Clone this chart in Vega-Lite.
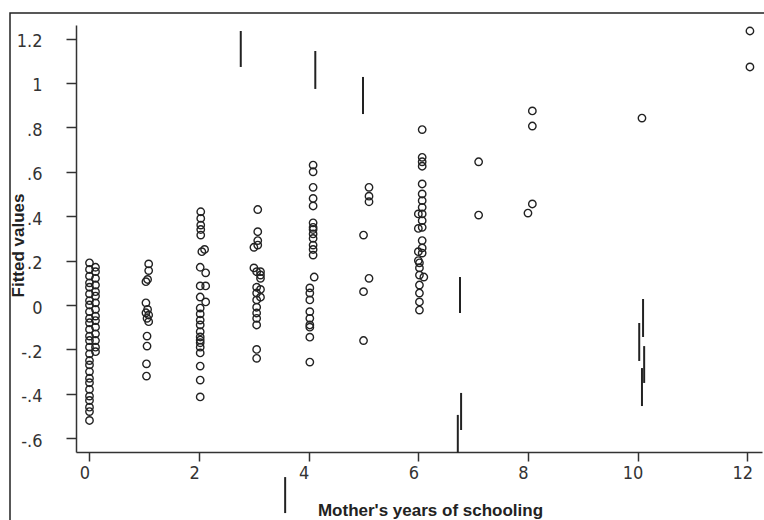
{
  "$schema": "https://vega.github.io/schema/vega-lite/v6.json",
  "width": 760,
  "height": 520,
  "autosize": {"type": "none"},
  "padding": {"left": 10, "top": 13, "right": 0, "bottom": 0},
  "background": "white",
  "config": {"view": {"stroke": "#222", "strokeWidth": 1.5}, "font": "Liberation Sans"},
  "datasets": {
    "pts": [
      {"x": 0.0, "y": 0.19}, {"x": 0.0, "y": 0.16}, {"x": 0.0, "y": 0.13}, {"x": 0.0, "y": 0.1}, {"x": 0.0, "y": 0.08}, {"x": 0.0, "y": 0.05}, {"x": 0.0, "y": 0.02}, {"x": 0.0, "y": 0.0}, {"x": 0.0, "y": -0.03}, {"x": 0.0, "y": -0.06}, {"x": 0.0, "y": -0.08}, {"x": 0.0, "y": -0.11}, {"x": 0.0, "y": -0.14}, {"x": 0.0, "y": -0.16}, {"x": 0.0, "y": -0.19}, {"x": 0.0, "y": -0.22}, {"x": 0.0, "y": -0.25}, {"x": 0.0, "y": -0.27}, {"x": 0.0, "y": -0.3}, {"x": 0.0, "y": -0.33}, {"x": 0.0, "y": -0.35}, {"x": 0.0, "y": -0.38}, {"x": 0.0, "y": -0.41}, {"x": 0.0, "y": -0.43}, {"x": 0.0, "y": -0.46}, {"x": 0.0, "y": -0.48}, {"x": 0.0, "y": -0.52},
      {"x": 0.11, "y": 0.17}, {"x": 0.11, "y": 0.15}, {"x": 0.11, "y": 0.12}, {"x": 0.11, "y": 0.09}, {"x": 0.11, "y": 0.06}, {"x": 0.11, "y": 0.04}, {"x": 0.11, "y": 0.01}, {"x": 0.11, "y": -0.02}, {"x": 0.11, "y": -0.05}, {"x": 0.11, "y": -0.07}, {"x": 0.11, "y": -0.1}, {"x": 0.11, "y": -0.13}, {"x": 0.11, "y": -0.16}, {"x": 0.11, "y": -0.19}, {"x": 0.11, "y": -0.21},
      {"x": 1.08, "y": 0.185}, {"x": 1.08, "y": 0.155}, {"x": 1.03, "y": 0.105}, {"x": 1.06, "y": 0.115}, {"x": 1.03, "y": 0.01}, {"x": 1.06, "y": -0.02}, {"x": 1.03, "y": -0.035}, {"x": 1.08, "y": -0.045}, {"x": 1.05, "y": -0.06}, {"x": 1.08, "y": -0.075}, {"x": 1.05, "y": -0.14}, {"x": 1.05, "y": -0.185}, {"x": 1.04, "y": -0.265}, {"x": 1.04, "y": -0.32},
      {"x": 2.03, "y": 0.42}, {"x": 2.03, "y": 0.39}, {"x": 2.03, "y": 0.36}, {"x": 2.03, "y": 0.34}, {"x": 2.03, "y": 0.315}, {"x": 2.1, "y": 0.25}, {"x": 2.05, "y": 0.24}, {"x": 2.02, "y": 0.17}, {"x": 2.12, "y": 0.145}, {"x": 2.02, "y": 0.086}, {"x": 2.12, "y": 0.086}, {"x": 2.02, "y": 0.036}, {"x": 2.12, "y": 0.014}, {"x": 2.02, "y": -0.014}, {"x": 2.02, "y": -0.04}, {"x": 2.02, "y": -0.068}, {"x": 2.02, "y": -0.09}, {"x": 2.02, "y": -0.12}, {"x": 2.02, "y": -0.144}, {"x": 2.02, "y": -0.158}, {"x": 2.02, "y": -0.17}, {"x": 2.02, "y": -0.19}, {"x": 2.02, "y": -0.216}, {"x": 2.02, "y": -0.275}, {"x": 2.02, "y": -0.338}, {"x": 2.02, "y": -0.414},
      {"x": 3.07, "y": 0.43}, {"x": 3.07, "y": 0.33}, {"x": 3.07, "y": 0.29}, {"x": 3.0, "y": 0.26}, {"x": 3.07, "y": 0.27}, {"x": 3.0, "y": 0.167}, {"x": 3.12, "y": 0.15}, {"x": 3.12, "y": 0.135}, {"x": 3.12, "y": 0.12}, {"x": 3.05, "y": 0.15}, {"x": 3.05, "y": 0.08}, {"x": 3.12, "y": 0.07}, {"x": 3.05, "y": 0.054}, {"x": 3.12, "y": 0.035}, {"x": 3.05, "y": 0.023}, {"x": 3.05, "y": -0.01}, {"x": 3.05, "y": -0.036}, {"x": 3.05, "y": -0.06}, {"x": 3.05, "y": -0.09}, {"x": 3.05, "y": -0.2}, {"x": 3.05, "y": -0.24},
      {"x": 4.08, "y": 0.63}, {"x": 4.08, "y": 0.6}, {"x": 4.08, "y": 0.53}, {"x": 4.08, "y": 0.48}, {"x": 4.08, "y": 0.446}, {"x": 4.08, "y": 0.37}, {"x": 4.08, "y": 0.35}, {"x": 4.08, "y": 0.34}, {"x": 4.08, "y": 0.32}, {"x": 4.08, "y": 0.3}, {"x": 4.08, "y": 0.27}, {"x": 4.08, "y": 0.25}, {"x": 4.08, "y": 0.225}, {"x": 4.1, "y": 0.126}, {"x": 4.02, "y": 0.077}, {"x": 4.02, "y": 0.054}, {"x": 4.02, "y": 0.023}, {"x": 4.02, "y": -0.03}, {"x": 4.02, "y": -0.06}, {"x": 4.02, "y": -0.09}, {"x": 4.02, "y": -0.1}, {"x": 4.02, "y": -0.145}, {"x": 4.02, "y": -0.257},
      {"x": 5.1, "y": 0.53}, {"x": 5.1, "y": 0.49}, {"x": 5.1, "y": 0.465}, {"x": 5.0, "y": 0.315}, {"x": 5.1, "y": 0.12}, {"x": 5.0, "y": 0.06}, {"x": 5.0, "y": -0.16},
      {"x": 6.07, "y": 0.79}, {"x": 6.07, "y": 0.665}, {"x": 6.07, "y": 0.645}, {"x": 6.07, "y": 0.625}, {"x": 6.07, "y": 0.545}, {"x": 6.07, "y": 0.5}, {"x": 6.07, "y": 0.47}, {"x": 6.07, "y": 0.44}, {"x": 6.0, "y": 0.41}, {"x": 6.07, "y": 0.41}, {"x": 6.07, "y": 0.38}, {"x": 6.0, "y": 0.345}, {"x": 6.07, "y": 0.35}, {"x": 6.07, "y": 0.29}, {"x": 6.07, "y": 0.257}, {"x": 6.0, "y": 0.24}, {"x": 6.07, "y": 0.234}, {"x": 6.0, "y": 0.2}, {"x": 6.02, "y": 0.19}, {"x": 6.02, "y": 0.167}, {"x": 6.02, "y": 0.135}, {"x": 6.1, "y": 0.126}, {"x": 6.02, "y": 0.09}, {"x": 6.02, "y": 0.054}, {"x": 6.02, "y": 0.014}, {"x": 6.02, "y": -0.023},
      {"x": 7.1, "y": 0.645}, {"x": 7.1, "y": 0.405},
      {"x": 8.08, "y": 0.874}, {"x": 8.08, "y": 0.806}, {"x": 8.08, "y": 0.455}, {"x": 8.0, "y": 0.414},
      {"x": 10.08, "y": 0.842},
      {"x": 12.05, "y": 1.234}, {"x": 12.05, "y": 1.072}
    ],
    "marks": [
      {"x": 2.76, "y": 1.234, "y2": 1.072},
      {"x": 4.12, "y": 1.144, "y2": 0.973},
      {"x": 4.99, "y": 1.027, "y2": 0.86},
      {"x": 6.76, "y": 0.126, "y2": -0.036},
      {"x": 6.78, "y": -0.396, "y2": -0.563},
      {"x": 6.72, "y": -0.495, "y2": -0.665},
      {"x": 3.57, "y": -0.775, "y2": -0.937},
      {"x": 10.1, "y": 0.027, "y2": -0.144},
      {"x": 10.03, "y": -0.081, "y2": -0.252},
      {"x": 10.12, "y": -0.185, "y2": -0.351},
      {"x": 10.08, "y": -0.284, "y2": -0.455}
    ]
  },
  "layer": [
    {
      "data": {"name": "pts"},
      "mark": {"type": "point", "shape": "circle", "filled": false, "stroke": "#222", "strokeWidth": 1.4, "size": 55, "opacity": 1},
      "encoding": {
        "x": {
          "field": "x", "type": "quantitative",
          "scale": {"domain": [-0.246, 12.27], "range": [66, 752], "nice": false, "zero": false},
          "axis": {
            "values": [0, 2, 4, 6, 8, 10, 12], "format": "d", "offset": -81, "grid": false,
            "domainColor": "#333", "domainWidth": 1.5, "tickColor": "#333", "tickWidth": 1.5, "tickSize": 9,
            "labelFont": "'DejaVu Sans Condensed', 'Liberation Sans'", "labelFontSize": 18, "labelColor": "#333", "labelPadding": 3, "labelOffset": -5,
            "title": "Mother's years of schooling", "titleFont": "Liberation Sans", "titleFontSize": 17, "titleFontWeight": "bold", "titleColor": "#222",
            "titleX": 420, "titleY": 63, "titleBaseline": "alphabetic", "titleAlign": "center"
          }
        },
        "y": {
          "field": "y", "type": "quantitative",
          "scale": {"domain": [-0.662, 1.261], "range": [439, 12], "nice": false, "zero": false},
          "axis": {
            "values": [-0.6, -0.4, -0.2, 0, 0.2, 0.4, 0.6, 0.8, 1, 1.2], "offset": -66, "grid": false,
            "labelExpr": "datum.value < 0 ? '-' + replace(format(-datum.value, '.1~f'), '0.', '.') : replace(format(datum.value, '.1~f'), '0.', '.')",
            "domainColor": "#333", "domainWidth": 1.5, "tickColor": "#333", "tickWidth": 1.5, "tickSize": 10,
            "labelFont": "'DejaVu Sans Condensed', 'Liberation Sans'", "labelFontSize": 18, "labelColor": "#333", "labelPadding": 24, "labelOffset": 3,
            "title": "Fitted values", "titleFont": "Liberation Sans", "titleFontSize": 17, "titleFontWeight": "bold", "titleColor": "#222",
            "titleX": -53, "titleY": 232, "titleBaseline": "alphabetic", "titleAlign": "center", "titleAngle": -90
          }
        }
      }
    },
    {
      "data": {"name": "marks"},
      "mark": {"type": "rule", "color": "#222", "strokeWidth": 2, "clip": false},
      "encoding": {
        "x": {"field": "x", "type": "quantitative"},
        "y": {"field": "y", "type": "quantitative"},
        "y2": {"field": "y2"}
      }
    }
  ]
}
